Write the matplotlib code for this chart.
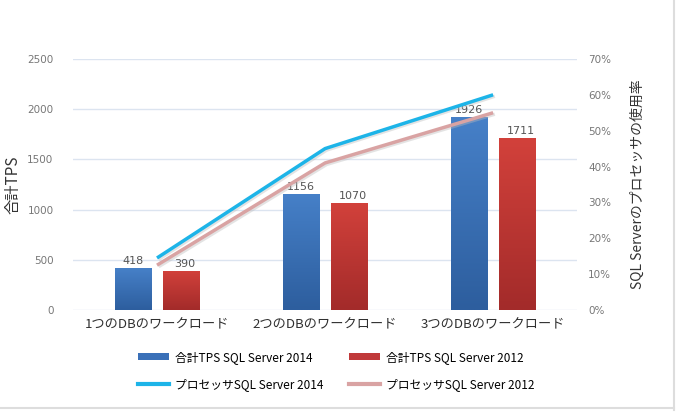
import matplotlib
matplotlib.use("Agg")
import matplotlib.pyplot as plt
import numpy as np
from matplotlib.colors import LinearSegmentedColormap
from matplotlib.lines import Line2D
from matplotlib.patches import Patch

plt.rcParams['font.family'] = ['Noto Sans CJK JP', 'DejaVu Sans']

categories = ["1つのDBのワークロード", "2つのDBのワークロード", "3つのDBのワークロード"]
tps_2014 = [418, 1156, 1926]
tps_2012 = [390, 1070, 1711]
cpu_2014 = [0.145, 0.45, 0.60]
cpu_2012 = [0.125, 0.41, 0.55]
series_names = ["合計TPS SQL Server 2014", "合計TPS SQL Server 2012",
                "プロセッサSQL Server 2014", "プロセッサSQL Server 2012"]

fig = plt.figure(figsize=(6.79, 4.18), dpi=100)
ax = fig.add_axes([0.1075, 0.2584, 0.7425, 0.6006])
ax2 = ax.twinx()

x = np.arange(len(categories))
w = 0.22
off = 0.143

blue_cm = LinearSegmentedColormap.from_list("b", ["#2D5E9E", "#4680C8"])
red_cm = LinearSegmentedColormap.from_list("r", ["#A32B2A", "#D2413B"])

def grad_bars(bars, cmap):
    for b in bars:
        x0, y0 = b.get_x(), b.get_y()
        x1, y1 = x0 + b.get_width(), y0 + b.get_height()
        grad = np.linspace(0, 1, 100).reshape(-1, 1)
        im = ax.imshow(grad, extent=[x0, x1, y0, y1], origin="lower", cmap=cmap,
                       aspect="auto", zorder=2)
        im.set_clip_path(b)
        b.set_facecolor("none")

b1 = ax.bar(x - off, tps_2014, w, color="#3A70B8", zorder=2)
b2 = ax.bar(x + off, tps_2012, w, color="#C0393A", zorder=2)
grad_bars(b1, blue_cm)
grad_bars(b2, red_cm)

num_font = ['DejaVu Sans']
for xi, v in zip(x - off, tps_2014):
    ax.text(xi, v + 20, str(v), ha="center", va="bottom", fontsize=8, color="#555555",
            family=num_font, zorder=5)
for xi, v in zip(x + off, tps_2012):
    ax.text(xi + 0.02, v + 20, str(v), ha="center", va="bottom", fontsize=8, color="#555555",
            family=num_font, zorder=5)

ax.set_xlim(-0.5, 2.5)
ax.set_ylim(0, 2500)
ax.set_yticks(np.arange(0, 2501, 500))
ax.grid(axis="y", color="#DCE4F0", linewidth=1)
ax.set_axisbelow(True)
ax.set_xticks(x)
ax.set_xticklabels(categories, fontsize=9.5, color="#303030")
ax.tick_params(axis="y", labelsize=7.5, colors="#777777", length=0, pad=14)
for t in ax.get_yticklabels():
    t.set_family(num_font)
ax.tick_params(axis="x", length=0, pad=6)
for s in ax.spines.values():
    s.set_visible(False)
ax.set_ylabel("合計TPS", fontsize=11, color="#333333", labelpad=4)

ax2.set_ylim(0, 0.70)
ax2.set_yticks(np.arange(0, 0.71, 0.1))
ax2.set_yticklabels([f"{int(round(t*100))}%" for t in np.arange(0, 0.71, 0.1)])
ax2.tick_params(axis="y", labelsize=7.5, colors="#777777", length=0, pad=8)
for t in ax2.get_yticklabels():
    t.set_family(num_font)
for s in ax2.spines.values():
    s.set_visible(False)
ax2.set_ylabel("SQL Serverのプロセッサの使用率", fontsize=10, color="#333333", labelpad=14)

# shadows
ax2.plot(x + 0.01, np.array(cpu_2012) - 0.004, color="#BBBBBB", lw=2.5, alpha=0.4, zorder=3, solid_capstyle="butt")
ax2.plot(x, cpu_2012, color="#D9A3A3", lw=2.5, zorder=4, solid_capstyle="butt")
ax2.plot(x + 0.01, np.array(cpu_2014) - 0.004, color="#BBBBBB", lw=2.5, alpha=0.4, zorder=3, solid_capstyle="butt")
ax2.plot(x, cpu_2014, color="#1DB4E8", lw=2.5, zorder=4, solid_capstyle="butt")

handles = [Patch(facecolor="#3A70B8"), Line2D([], [], color="#1DB4E8", lw=3),
           Patch(facecolor="#C0393A"), Line2D([], [], color="#D9A3A3", lw=3)]
labels = [series_names[0], series_names[2], series_names[1], series_names[3]]
fig.legend(handles, labels, ncol=2, loc="center", bbox_to_anchor=(0.495, 0.113),
           frameon=False, fontsize=8.5, handlelength=2.6, handleheight=0.6,
           columnspacing=2.2, labelspacing=1.2, handletextpad=0.5)

# frame edges
fig.add_artist(Line2D([0.992, 0.992], [0.02, 1.0], transform=fig.transFigure, color="#DDDDDD", lw=1.5))
fig.add_artist(Line2D([0.0, 0.992], [0.024, 0.024], transform=fig.transFigure, color="#DDDDDD", lw=1.5))

fig.savefig("out.png", dpi=100)
